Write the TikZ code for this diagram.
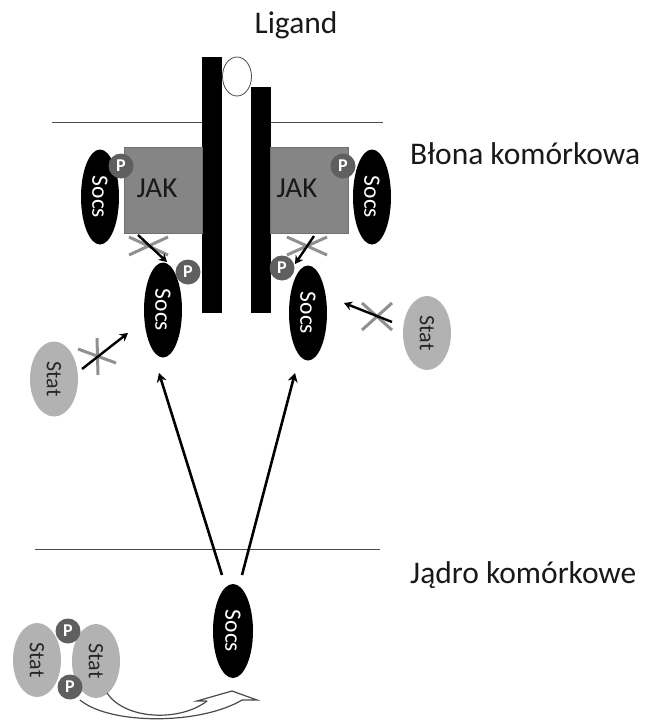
\documentclass[tikz,border=0pt]{standalone}
\usepackage{fontspec}
\setmainfont{Carlito}
\usetikzlibrary{shapes.geometric,arrows.meta,calc}

\definecolor{jakgray}{HTML}{858585}
\definecolor{pgray}{HTML}{5f5f5f}
\definecolor{statgray}{HTML}{b2b2b2}
\definecolor{crossgray}{HTML}{909090}
\definecolor{linegray}{HTML}{4a4a4a}

\begin{document}
\begin{tikzpicture}[x=1pt,y=-1pt,
  socs/.style={ellipse, fill=black, text=white, minimum width=38, minimum height=95,
    inner sep=0, font=\fontsize{23.5}{23.5}\selectfont},
  stat/.style={ellipse, fill=statgray, text=black!85, minimum width=48, minimum height=74,
    inner sep=0, font=\fontsize{22}{22}\selectfont},
  phos/.style={circle, fill=pgray, text=white, minimum size=25, inner sep=0,
    font=\bfseries\fontsize{18}{18}\selectfont},
  jakbox/.style={rectangle, fill=jakgray, draw=jakgray!85!black, line width=0.6pt,
    anchor=north west, inner sep=0, minimum width=78, minimum height=86},
  bar/.style={rectangle, fill=black, anchor=north west, inner sep=0, minimum width=20},
  jaklabel/.style={font=\fontsize{29}{29}\selectfont, text=black!90},
  title/.style={font=\fontsize{31.5}{31.5}\selectfont, text=black!90, inner sep=0},
  membrane/.style={linegray, line width=1pt},
  xmark/.style={crossgray, line width=3pt},
  sig/.style={black, line width=2.6pt, -{Stealth[length=9pt,width=10pt]}},
  smallsig/.style={black, line width=2.4pt, -{Stealth[length=8pt,width=9pt]}},
  outline/.style={linegray, line width=1.2pt},
]
\useasboundingbox (0,0) rectangle (645,720);

% receptor chains and ligand
\node[bar, minimum height=256] (barL) at (202,57) {};
\node[bar, minimum height=226] (barR) at (251,87) {};
\node[ellipse, draw=linegray, line width=0.8pt, fill=white, minimum width=29,
  minimum height=39, inner sep=0] (lig) at (237,76.5) {};
\node[title, anchor=base] (ligtxt) at (296,33) {Ligand};

% membrane and nuclear envelope
\coordinate (memL) at (52,122);
\coordinate (memR) at (383,122);
\draw[membrane] (memL) -- (memL -| barL.west);
\draw[membrane] (memR -| barR.east) -- (memR);
\coordinate (nucL) at (35,549);
\coordinate (nucR) at (380,549);
\draw[membrane] (nucL) -- (nucR);

\node[title, anchor=base west] (blona) at (410,164) {Błona komórkowa};
\node[title, anchor=base west] (jadro) at (410,583) {Jądro komórkowe};

% JAK kinases
\node[jakbox] (jakL) at (124,147) {};
\node[jakbox] (jakR) at (270,147) {};
\node[jaklabel] (jakLt) at (157,188) {JAK};
\node[jaklabel] (jakRt) at (297,188) {JAK};

% SOCS proteins
\node[socs] (socsUL) at (100,197) {\rotatebox{-90}{Socs}};
\node[socs] (socsUR) at (372,197) {\rotatebox{-90}{Socs}};
\node[socs] (socsLL) at (163,310) {\rotatebox{-90}{Socs}};
\node[socs] (socsLR) at (308,313) {\rotatebox{-90}{Socs}};
\node[socs, minimum width=40, minimum height=94] (socsN) at (233,631) {\rotatebox{-90}{Socs}};

% STAT proteins
\node[stat] (statR) at (427,333) {\rotatebox{-90}{Stat}};
\node[stat, minimum height=75] (statL) at (54,379) {\rotatebox{-90}{Stat}};
\node[stat] (statB1) at (37,660) {\rotatebox{-90}{Stat}};
\node[stat] (statB2) at (96,661) {\rotatebox{-90}{Stat}};

% phosphate groups
\node[phos] (pUL) at (121,166) {P};
\node[phos] (pUR) at (343,166) {P};
\node[phos] (pLL) at (188,272) {P};
\node[phos] (pLR) at (282,268) {P};
\node[phos] (pT) at (68,631) {P};
\node[phos] (pB) at (70,687) {P};

% blocked steps: grey crosses
\draw[xmark] (129,237) -- (168,255) (129,255) -- (168,237);
\draw[xmark] (287,237) -- (327,255) (287,255) -- (327,237);
\draw[xmark] (362,303) -- (392,330) (362,330) -- (392,303);
\draw[xmark] (97,338) -- (98,375) (78,349) -- (116,363);

% short signalling arrows
\coordinate (aULs) at (138,235);
\coordinate (aULe) at (167,262);
\coordinate (aURs) at (314,236);
\coordinate (aURe) at (295,264);
\coordinate (aSRs) at (392,322);
\coordinate (aSRe) at (344,303);
\coordinate (aSLs) at (82,369);
\coordinate (aSLe) at (128,333);
\draw[smallsig] (aULs) -- (aULe);
\draw[smallsig] (aURs) -- (aURe);
\draw[smallsig] (aSRs) -- (aSRe);
\draw[smallsig] (aSLs) -- (aSLe);

% SOCS leaving the nucleus
\coordinate (nL) at (222,575);
\coordinate (nR) at (242,575);
\coordinate (tL) at (159,373);
\coordinate (tR) at (295,373);
\draw[sig] (nL) -- (tL);
\draw[sig] (nR) -- (tR);

% curved block arrow from the STAT dimer to SOCS
\coordinate (cOa) at (80,700);
\coordinate (cOb) at (242,700);
\coordinate (cIa) at (107,693);
\coordinate (cIb) at (207,701);
\draw[outline] (cOa) .. controls (110,725) and (200,725) .. (cOb);
\draw[outline] (cIa) .. controls (125,720) and (180,722) .. (cIb);
\draw[outline, line join=miter] (cIb) -- (197,701) -- (232,691) -- (257,700) -- (cOb);
\end{tikzpicture}
\end{document}
